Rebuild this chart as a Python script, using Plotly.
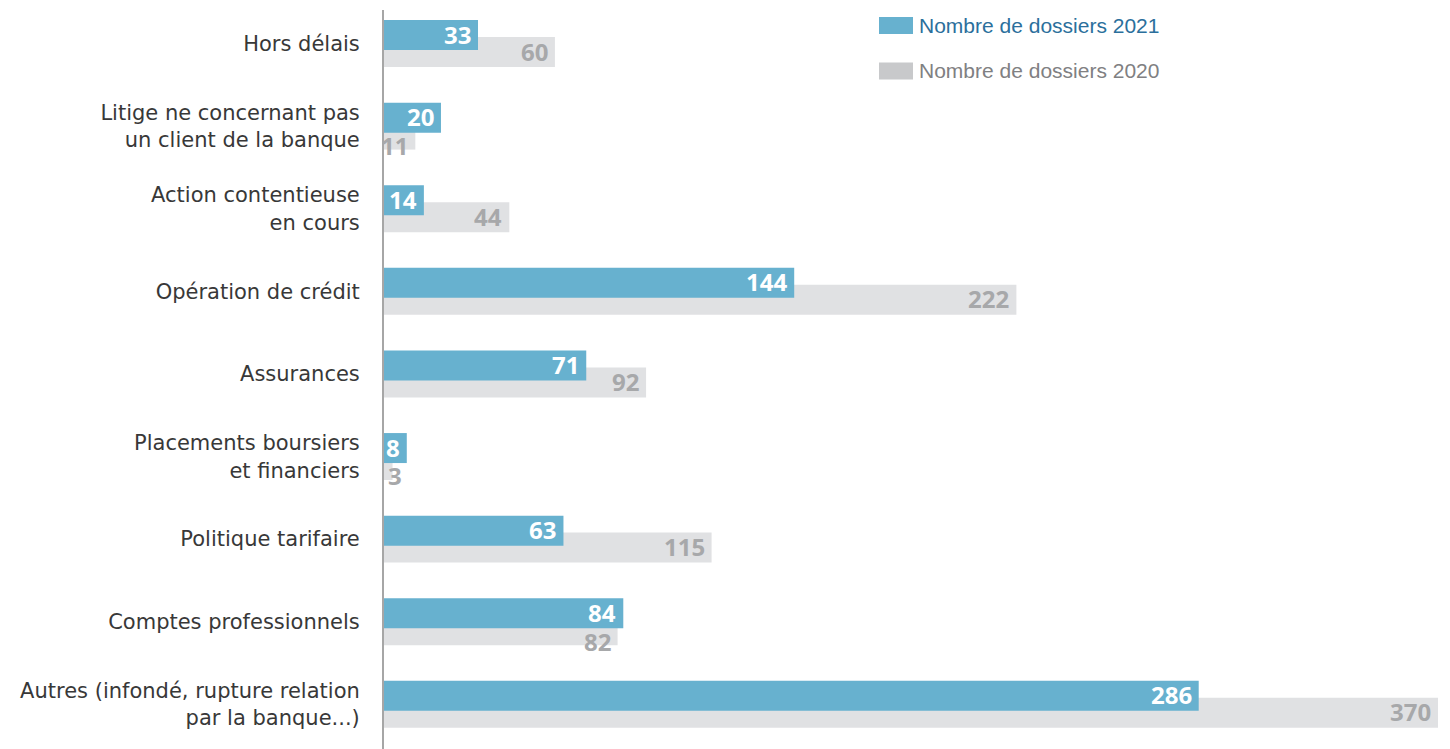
import plotly.graph_objects as go

categories = [
    "Hors délais",
    "Litige ne concernant pas<br>un client de la banque",
    "Action contentieuse<br>en cours",
    "Opération de crédit",
    "Assurances",
    "Placements boursiers<br>et financiers",
    "Politique tarifaire",
    "Comptes professionnels",
    "Autres (infondé, rupture relation<br>par la banque...)",
]
dossiers_2021 = [33, 20, 14, 144, 71, 8, 63, 84, 286]
dossiers_2020 = [60, 11, 44, 222, 92, 3, 115, 82, 370]
series_names = ["Nombre de dossiers 2021", "Nombre de dossiers 2020"]

pos = list(range(len(categories)))
C21 = "#67b1cf"
C20 = "#e0e1e3"
W = 0.363
OFF21 = -0.284
OFF20 = -0.079

fig = go.Figure()
fig.add_trace(go.Bar(
    y=pos, x=dossiers_2020, orientation="h", name=series_names[1],
    marker=dict(color=C20, line=dict(width=0)),
    width=W, offset=OFF20, showlegend=False, hoverinfo="skip",
))
fig.add_trace(go.Bar(
    y=pos, x=dossiers_2021, orientation="h", name=series_names[0],
    marker=dict(color=C21, line=dict(width=0)),
    width=W, offset=OFF21, showlegend=False, hoverinfo="skip",
))


# value labels at bar ends
def add_labels(values, other, off, color):
    for i, (p, v) in enumerate(zip(pos, values)):
        small = v < 5
        crowded = other is not None and abs(v - other[i]) < 15
        fig.add_annotation(
            x=0 if small else v, y=p + off + W / 2, xref="x", yref="y",
            xanchor="left" if small else "right", yanchor="middle",
            xshift=2 if small else -5, yshift=-11 if crowded else 1,
            text=str(v), showarrow=False,
            font=dict(family="Open Sans", size=24, color=color, weight="bold"),
        )


add_labels(dossiers_2020, dossiers_2021, OFF20, "#a7a8aa")
add_labels(dossiers_2021, None, OFF21, "white")

# legend drawn manually
legend_items = [(series_names[0], C21, "#2b6f9c", 25.5), (series_names[1], "#c8c9cb", "#808082", 71)]
for name, sw, tc, ypx in legend_items:
    y0 = 1 - (ypx - 10) / 739
    fig.add_shape(type="rect", xref="paper", yref="paper",
                  x0=(879 - 384) / 1054, x1=(913 - 384) / 1054,
                  y0=y0 - 8.5 / 739, y1=y0 + 8.5 / 739,
                  fillcolor=sw, line=dict(width=0))
    fig.add_annotation(xref="paper", yref="paper", x=(917 - 384) / 1054, y=y0,
                       xanchor="left", yanchor="middle", showarrow=False,
                       text=name, font=dict(family="Liberation Sans", size=21, color=tc))

# the page body adds 8px; figure is sized to fit the 1450x749 window
fig.update_layout(
    width=1442, height=741,
    margin=dict(l=376, r=12, t=2, b=0, autoexpand=False),
    barmode="overlay",
    plot_bgcolor="white", paper_bgcolor="white",
    xaxis=dict(range=[0, 370], visible=False, fixedrange=True, automargin=False),
    yaxis=dict(
        range=[8.541, -0.406], tickmode="array", tickvals=pos, ticktext=categories,
        showline=True, linecolor="#a6a6a6", linewidth=2, showgrid=False,
        zeroline=False, ticks="", ticklabelstandoff=18, automargin=False,
        tickfont=dict(family="DejaVu Sans", size=21, color="#383838"),
    ),
    showlegend=False,
)
fig.write_html("out.html")
